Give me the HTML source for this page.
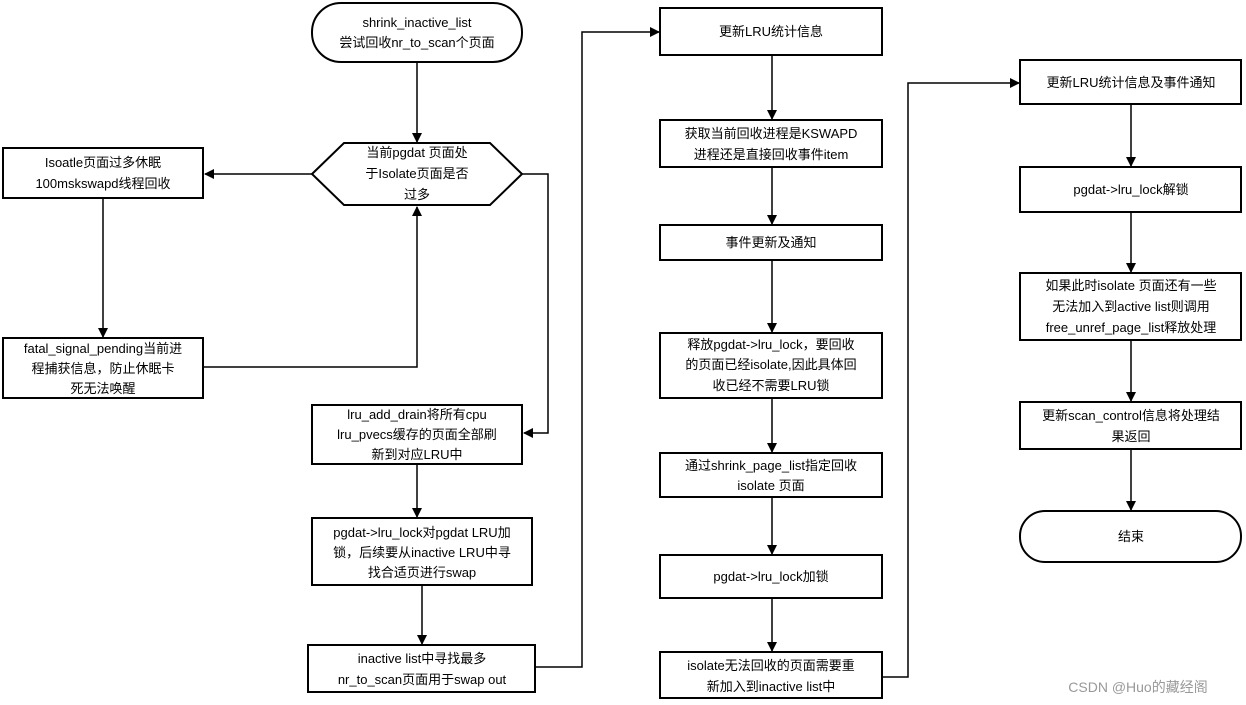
<!DOCTYPE html>
<html><head><meta charset="utf-8"><style>
body{margin:0;background:#fff}
svg{display:block}
text{font-family:"Liberation Sans","Noto Sans CJK SC",sans-serif;font-size:13px;fill:#000;text-anchor:middle}
.b{fill:#fff;stroke:#000;stroke-width:2}
.l{fill:none;stroke:#000;stroke-width:1.5}
</style></head><body>
<svg width="1246" height="705" viewBox="0 0 1246 705">
<defs><marker id="a" markerWidth="10" markerHeight="10" refX="9" refY="5" orient="auto" markerUnits="userSpaceOnUse"><path d="M0,0 L10,5 L0,10 z" fill="#000"/></marker></defs>
<!-- connectors -->
<path class="l" d="M417,62 V142" marker-end="url(#a)"/>
<path class="l" d="M312,174 H205" marker-end="url(#a)"/>
<path class="l" d="M103,198 V337" marker-end="url(#a)"/>
<path class="l" d="M203,367 H417 V207" marker-end="url(#a)"/>
<path class="l" d="M522,174 H548 V433 H524" marker-end="url(#a)"/>
<path class="l" d="M417,464 V517" marker-end="url(#a)"/>
<path class="l" d="M422,585 V644" marker-end="url(#a)"/>
<path class="l" d="M535,667 H582 V32 H659" marker-end="url(#a)"/>
<path class="l" d="M772,55 V119" marker-end="url(#a)"/>
<path class="l" d="M772,167 V224" marker-end="url(#a)"/>
<path class="l" d="M772,260 V332" marker-end="url(#a)"/>
<path class="l" d="M772,398 V452" marker-end="url(#a)"/>
<path class="l" d="M772,497 V554" marker-end="url(#a)"/>
<path class="l" d="M772,598 V651" marker-end="url(#a)"/>
<path class="l" d="M882,677 H908 V83 H1019" marker-end="url(#a)"/>
<path class="l" d="M1131,104 V166" marker-end="url(#a)"/>
<path class="l" d="M1131,212 V272" marker-end="url(#a)"/>
<path class="l" d="M1131,340 V401" marker-end="url(#a)"/>
<path class="l" d="M1131,449 V510" marker-end="url(#a)"/>
<!-- shapes -->
<rect class="b" x="312" y="3" width="210" height="59" rx="29"/>
<text x="417" y="27">shrink_inactive_list</text>
<text x="417" y="47">尝试回收nr_to_scan个页面</text>
<polygon class="b" points="312,174 344,143 490,143 522,174 490,205 344,205"/>
<text x="417" y="157">当前pgdat 页面处</text>
<text x="417" y="178">于Isolate页面是否</text>
<text x="417" y="199">过多</text>
<rect class="b" x="3" y="148" width="200" height="50"/>
<text x="103" y="167">Isoatle页面过多休眠</text>
<text x="103" y="188">100mskswapd线程回收</text>
<rect class="b" x="3" y="338" width="200" height="60"/>
<text x="103" y="353">fatal_signal_pending当前进</text>
<text x="103" y="373">程捕获信息，防止休眠卡</text>
<text x="103" y="393">死无法唤醒</text>
<rect class="b" x="312" y="405" width="210" height="59"/>
<text x="417" y="419">lru_add_drain将所有cpu</text>
<text x="417" y="439">lru_pvecs缓存的页面全部刷</text>
<text x="417" y="459">新到对应LRU中</text>
<rect class="b" x="312" y="518" width="220" height="67"/>
<text x="422" y="537">pgdat-&gt;lru_lock对pgdat LRU加</text>
<text x="422" y="557">锁，后续要从inactive LRU中寻</text>
<text x="422" y="577">找合适页进行swap</text>
<rect class="b" x="308" y="645" width="227" height="47"/>
<text x="422" y="663">inactive list中寻找最多</text>
<text x="422" y="684">nr_to_scan页面用于swap out</text>
<rect class="b" x="660" y="8" width="222" height="47"/>
<text x="771" y="36">更新LRU统计信息</text>
<rect class="b" x="660" y="120" width="222" height="47"/>
<text x="771" y="138">获取当前回收进程是KSWAPD</text>
<text x="771" y="159">进程还是直接回收事件item</text>
<rect class="b" x="660" y="225" width="222" height="35"/>
<text x="771" y="247">事件更新及通知</text>
<rect class="b" x="660" y="333" width="222" height="65"/>
<text x="771" y="349">释放pgdat-&gt;lru_lock，要回收</text>
<text x="771" y="369">的页面已经isolate,因此具体回</text>
<text x="771" y="390">收已经不需要LRU锁</text>
<rect class="b" x="660" y="453" width="222" height="44"/>
<text x="771" y="470">通过shrink_page_list指定回收</text>
<text x="771" y="490">isolate 页面</text>
<rect class="b" x="660" y="555" width="222" height="43"/>
<text x="771" y="581">pgdat-&gt;lru_lock加锁</text>
<rect class="b" x="660" y="652" width="222" height="46"/>
<text x="771" y="670">isolate无法回收的页面需要重</text>
<text x="771" y="691">新加入到inactive list中</text>
<rect class="b" x="1020" y="60" width="221" height="44"/>
<text x="1131" y="87">更新LRU统计信息及事件通知</text>
<rect class="b" x="1020" y="167" width="221" height="45"/>
<text x="1131" y="194">pgdat-&gt;lru_lock解锁</text>
<rect class="b" x="1020" y="273" width="221" height="67"/>
<text x="1131" y="290">如果此时isolate 页面还有一些</text>
<text x="1131" y="311">无法加入到active list则调用</text>
<text x="1131" y="332">free_unref_page_list释放处理</text>
<rect class="b" x="1020" y="402" width="221" height="47"/>
<text x="1131" y="420">更新scan_control信息将处理结</text>
<text x="1131" y="441">果返回</text>
<rect class="b" x="1020" y="511" width="221" height="51" rx="25"/>
<text x="1131" y="541">结束</text>
<text x="1138" y="692" style="fill:#999;font-size:14px">CSDN @Huo的藏经阁</text>
</svg>
</body></html>
